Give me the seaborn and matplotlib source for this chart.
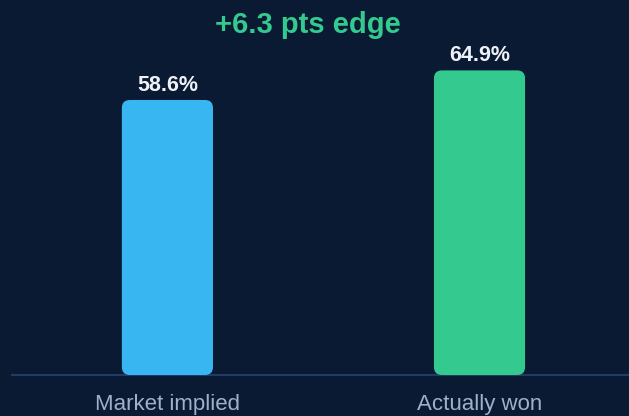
import matplotlib
matplotlib.use("Agg")
import matplotlib.pyplot as plt
import seaborn as sns
import pandas as pd
from matplotlib.patches import FancyBboxPatch

categories = ["Market implied", "Actually won"]
values = [58.6, 64.9]
value_labels = ["58.6%", "64.9%"]
title_text = "+6.3 pts edge"

BG = "#0b1a33"
colors = ["#38b6f2", "#33c98f"]

sns.set_theme(style="white")
plt.rcParams["font.family"] = ["Liberation Sans", "DejaVu Sans"]

df = pd.DataFrame({"cat": categories, "val": values})

W, H = 629, 416
fig = plt.figure(figsize=(W / 100, H / 100), dpi=100, facecolor=BG)
ax_left, ax_right = 12, 629
ax_bottom, ax_top = 375, 23
ax = fig.add_axes([ax_left / W, (H - ax_bottom) / H, (ax_right - ax_left) / W, (ax_bottom - ax_top) / H])
ax.set_facecolor(BG)

sns.barplot(data=df, x="cat", y="val", hue="cat", palette=colors, width=0.292,
            legend=False, ax=ax, saturation=1)
ax.set_xlim(-0.498, 1.479)
ax.set_ylim(0, 75)

# replace bars by rounded versions
px_x = (ax_right - ax_left) / (1.479 + 0.498)
px_y = (ax_bottom - ax_top) / 75
r_px = 8
for p in list(ax.patches):
    x, y = p.get_x(), p.get_y()
    w, h = p.get_width(), p.get_height()
    fc = p.get_facecolor()
    p.set_visible(False)
    fb = FancyBboxPatch((x, y), w, h,
                        boxstyle=f"round,pad=0,rounding_size={r_px / px_x}",
                        mutation_aspect=(px_x / px_y),
                        facecolor=fc, edgecolor="none", zorder=3)
    ax.add_patch(fb)

for i, (v, lab) in enumerate(zip(values, value_labels)):
    ax.annotate(lab, (i, v), xytext=(0, 6.5), textcoords="offset points",
                ha="center", va="baseline", color="#eef2f8", fontsize=15.5,
                fontweight="bold")

for s in ["top", "right", "left"]:
    ax.spines[s].set_visible(False)
ax.spines["bottom"].set_color("#1f3b66")
ax.spines["bottom"].set_linewidth(1.5)
ax.set_yticks([])
ax.set_xlabel("")
ax.set_ylabel("")
ax.tick_params(axis="x", length=0, pad=14, labelsize=16, labelcolor="#9fb0cc")

fig.text(307.5 / W, 1 - 25 / H, title_text, ha="center", va="center",
         color="#33c98f", fontsize=21, fontweight="bold")

fig.savefig("out.png", dpi=100, facecolor=BG)
